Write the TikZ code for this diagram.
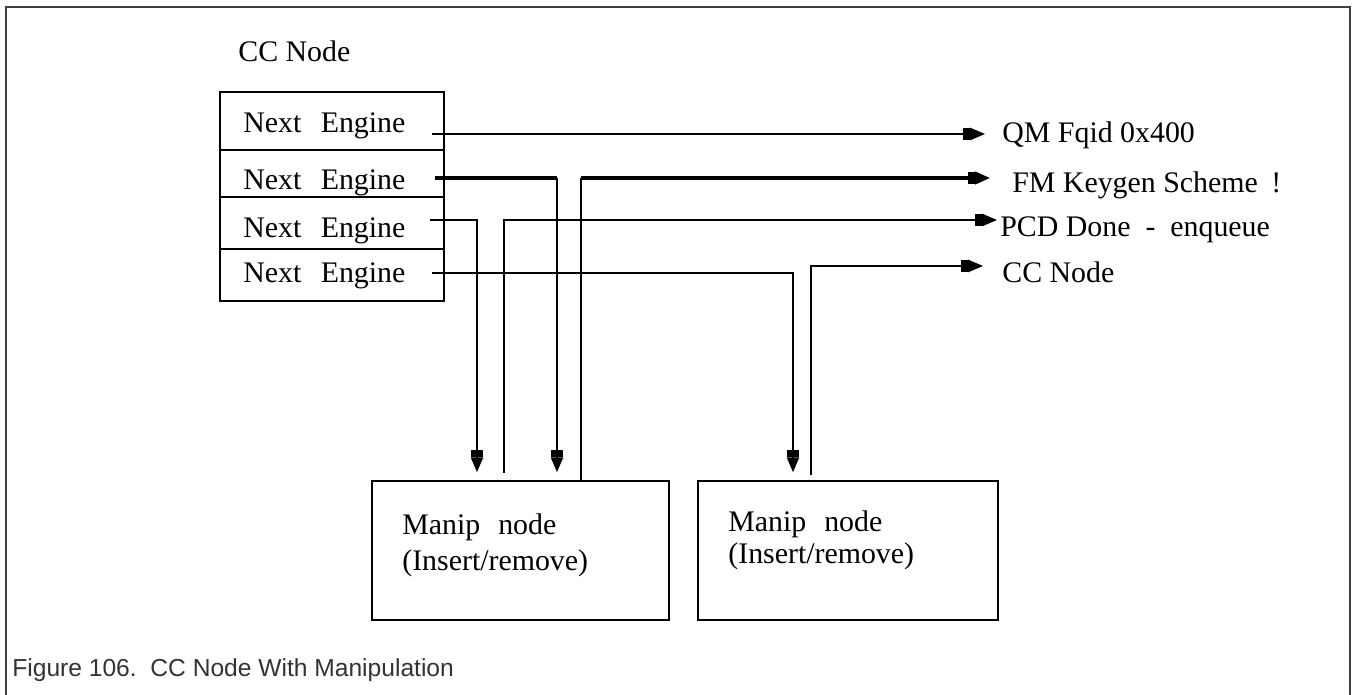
\documentclass[tikz,border=0pt]{standalone}
\usepackage{fontspec}
\setmainfont{Liberation Serif}
\newfontfamily\capfont{Liberation Sans}
\usetikzlibrary{arrows.meta,positioning}
\definecolor{framegray}{HTML}{404040}
\definecolor{capgray}{HTML}{333333}
\tikzset{
  txt/.style={inner sep=0pt, font=\fontsize{17}{20}\selectfont},
  engtxt/.style={txt, anchor=base west},
  outlbl/.style={txt, anchor=base west},
  manipbox/.style={draw, line width=0.9pt, minimum width=5.94cm, minimum height=2.78cm, inner sep=0pt},
  maniptxt/.style={txt, anchor=north west, align=left},
  link/.style={line width=0.85pt},
  boldlink/.style={line width=1.8pt},
  arr/.style={link, -{Rectangle[length=4pt,width=6.5pt,sep=0pt]Triangle[length=8.5pt,width=7pt,sep=0pt]}},
}

\begin{document}
\begin{tikzpicture}[x=0.02cm,y=-0.02cm]

    \useasboundingbox (0,0) rectangle (1353,695);
    \draw[framegray, line width=1.1pt] (6,695) -- (6,7) -- (1350,7) -- (1350,695); % ----- frame

    \node[engtxt] (title) at (238,62) {CC Node};

    \draw[link] (220,92) rectangle (444,301); % ----- CC node table
    \foreach \y in {150,197,249}
        \draw[link] (220,\y) -- (444,\y);

    \node[engtxt] (e1) at (243,133) {Next\hspace{0.65em}Engine};
    \node[engtxt] (e2) at (243,190) {Next\hspace{0.65em}Engine};
    \node[engtxt] (e3) at (243,238) {Next\hspace{0.65em}Engine};
    \node[engtxt] (e4) at (243,283) {Next\hspace{0.65em}Engine};

    \node[manipbox] (m1) at (520.5,550.5) {};
    \node[manipbox, minimum width=6cm] (m2) at (848,550.5) {};
    \node[maniptxt, font=\fontsize{17}{21}\selectfont] (t1) at (402,513) {Manip\hspace{0.6em}node\\(Insert/remove)};
    \node[maniptxt, font=\fontsize{17}{18.5}\selectfont] (t2) at (728,510) {Manip\hspace{0.6em}node\\(Insert/remove)};

    \node[outlbl, inner xsep=9.7pt] (q1) at (985,143) {QM Fqid 0x400};
    \begin{scope}
        \clip (900,150) rectangle (1286,210);
        \node[outlbl, inner xsep=12.5pt] (q2) at (990,193) {FM Keygen Scheme\hspace{0.45em}!};
    \end{scope}
    \node[outlbl, inner xsep=1.7pt] (q3) at (997,237) {PCD Done\hspace{0.5em}-\hspace{0.5em}enqueue};
    \node[outlbl, inner xsep=10.8pt] (q4) at (983,283) {CC Node};

    \coordinate (o1) at (432,134);
    \coordinate (o2) at (435,178);
    \coordinate (o3) at (430,220);
    \coordinate (o4) at (432,273);
    \coordinate (k2a) at (557,178);
    \coordinate (k2b) at (581,178);
    \coordinate (m1a) at (477,481);
    \coordinate (m1b) at (557,481);
    \coordinate (m1c) at (504,481);
    \coordinate (m1d) at (581,481);
    \coordinate (m2a) at (793,481);
    \coordinate (m2b) at (811,481);

    \draw[arr] (o1) -- (o1 -| q1.west);

    \draw[boldlink] (o2) -- (k2a);
    \draw[arr, shorten >=5pt] (k2a) -- (m1b);
    \draw[link] (m1d) -- (k2b);
    \draw[arr, boldlink] (k2b) -- (k2b -| q2.west);

    \draw[arr, shorten >=5pt] (o3) -| (m1a);
    \draw[arr, shorten <=4.5pt] (m1c) |- (o3 -| q3.west);

    \draw[arr, shorten >=5pt] (o4) -| (m2a);
    \draw[arr, shorten <=3.5pt] (m2b) |- ([yshift=4pt]o4 -| q4.west);

    \node[anchor=west, inner sep=0pt, text=capgray, font=\capfont\fontsize{14}{16}\selectfont] (cap) at (12,670) {Figure 106.\ \ CC Node With Manipulation};
\end{tikzpicture}
\end{document}
